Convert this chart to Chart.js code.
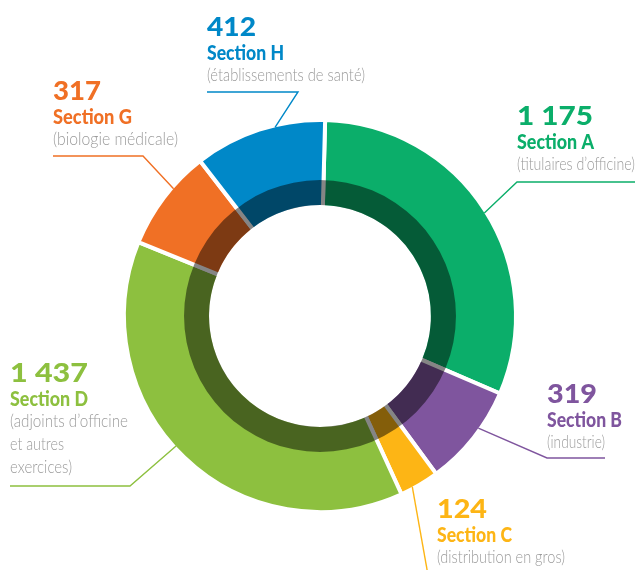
<!DOCTYPE html>
<html>
<head>
<meta charset="utf-8">
<style>
  html, body { margin: 0; padding: 0; background: #fff; }
  canvas { display: block; }
</style>
</head>
<body>
<canvas id="chart" width="635" height="570"></canvas>
<script src="https://cdn.jsdelivr.net/npm/chart.js@4.4.1/dist/chart.umd.min.js"></script>
<script>
const sections = ["Section A", "Section B", "Section C", "Section D", "Section G", "Section H"]
const subtitles = [
  ["(titulaires d’officine)"],
  ["(industrie)"],
  ["(distribution en gros)"],
  ["(adjoints d’officine", "et autres", "exercices)"],
  ["(biologie médicale)"],
  ["(établissements de santé)"]
]
const members = [1175, 319, 124, 1437, 317, 412]
const colors = ["#0bae6a", "#7f559e", "#fdb515", "#8dc03f", "#f07025", "#0088c8"]

// where each label sits: text anchor (number baseline), text widths, leader polyline, angle where it meets the ring
const labelLayout = [
  { x: 517, y: 125, w: [76, 77, [118]], line: [[635, 182], [517, 182]], angle: 57.9 },
  { x: 547, y: 403, w: [50, 75, [58]], line: [[605, 458], [547, 458]], angle: 125.3 },
  { x: 437, y: 518, w: [50, 75, [128]], line: [[428, 575]], angle: 151.6 },
  { x: 10, y: 382, w: [78, 78, [118, 54, 62]], line: [[10, 486], [130, 486]], angle: 227.9 },
  { x: 53, y: 100, w: [48, 79, [125]], line: [[53, 156], [143, 156]], angle: 311 },
  { x: 207, y: 36, w: [49, 77, [158]], line: [[207, 92], [298, 92]], angle: 346.6 }
]

function fmt(n) {
  return String(n).replace(/\B(?=(\d{3})+(?!\d))/g, " ")
}

// draw text stretched or squeezed to a given width
function fitText(ctx, text, x, y, w) {
  const natural = ctx.measureText(text).width
  ctx.save()
  ctx.translate(x, y)
  ctx.scale(w / natural, 1)
  ctx.fillText(text, 0, 0)
  ctx.restore()
}

// darker band along the inside of the ring
const innerShade = {
  id: "innerShade",
  afterDatasetsDraw(chart) {
    const arc = chart.getDatasetMeta(0).data[0]
    const { x, y, innerRadius } = arc.getProps(["x", "y", "innerRadius"], true)
    const ctx = chart.ctx
    ctx.save()
    ctx.fillStyle = "rgba(0,0,0,0.48)"
    ctx.beginPath()
    ctx.arc(x, y, innerRadius + 27, 0, Math.PI * 2)
    ctx.arc(x, y, innerRadius + 2, 0, Math.PI * 2, true)
    ctx.fill("evenodd")
    ctx.restore()
  }
}

// numbers, section names and leader lines
const outsideLabels = {
  id: "outsideLabels",
  afterDraw(chart) {
    const ctx = chart.ctx
    const arc = chart.getDatasetMeta(0).data[0]
    const { x: cx, y: cy, outerRadius } = arc.getProps(["x", "y", "outerRadius"], true)
    const r = outerRadius - 2
    ctx.save()
    labelLayout.forEach((pos, i) => {
      const a = pos.angle * Math.PI / 180
      ctx.strokeStyle = colors[i]
      ctx.lineWidth = 1.4
      ctx.beginPath()
      pos.line.forEach((p, j) => j === 0 ? ctx.moveTo(p[0], p[1]) : ctx.lineTo(p[0], p[1]))
      ctx.lineTo(cx + r * Math.sin(a), cy - r * Math.cos(a))
      ctx.stroke()

      ctx.textAlign = "left"
      ctx.textBaseline = "alphabetic"
      ctx.fillStyle = colors[i]
      ctx.font = "900 27px Lato, 'Open Sans', sans-serif"
      fitText(ctx, fmt(members[i]), pos.x, pos.y, pos.w[0])
      ctx.font = "900 20px Lato, 'Open Sans', sans-serif"
      fitText(ctx, sections[i], pos.x, pos.y + 24, pos.w[1])
      ctx.fillStyle = "#9b9b9b"
      ctx.font = "300 17px Lato, Roboto, sans-serif"
      subtitles[i].forEach((s, k) => fitText(ctx, s, pos.x, pos.y + 45 + k * 23, pos.w[2][k]))
    })
    ctx.restore()
  }
}

new Chart(document.getElementById("chart"), {
  type: "doughnut",
  data: {
    labels: sections,
    datasets: [{
      data: members,
      backgroundColor: colors,
      borderColor: "#ffffff",
      borderWidth: 4,
      hoverBorderWidth: 4,
      hoverOffset: 0
    }]
  },
  options: {
    responsive: false,
    animation: false,
    rotation: 1.5,
    cutout: "55.6%",
    layout: { padding: { left: 122, right: 117, top: 118, bottom: 56 } },
    plugins: {
      legend: { display: false },
      tooltip: { enabled: false }
    }
  },
  plugins: [innerShade, outsideLabels]
})
</script>
</body>
</html>
